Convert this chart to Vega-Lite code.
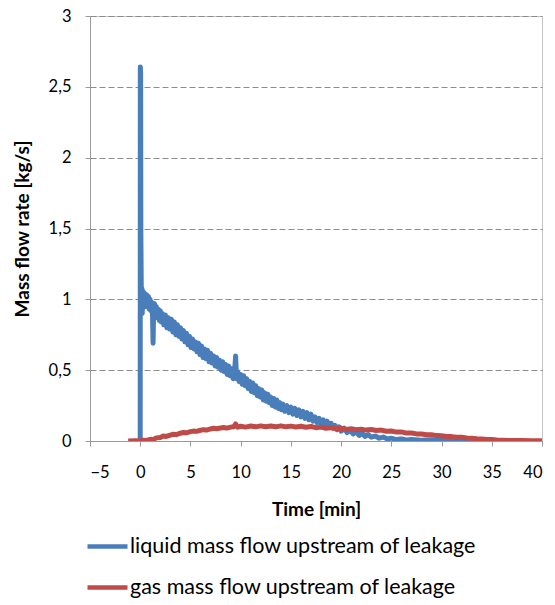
{
  "$schema": "https://vega.github.io/schema/vega-lite/v6.json",
  "width": 452,
  "height": 425,
  "autosize": {"type": "none"},
  "padding": {"left": 90, "top": 16, "right": 13, "bottom": 164},
  "background": "white",
  "config": {
    "font": "Lato",
    "view": {"stroke": "#c4c4c4", "strokeWidth": 1},
    "axis": {
      "domainColor": "#999999",
      "tickColor": "#999999",
      "gridColor": "#8c8c8c",
      "gridDash": [6, 3],
      "labelColor": "#000000",
      "titleColor": "#000000",
      "labelFont": "Lato",
      "titleFont": "Lato",
      "labelFontSize": 16.5,
      "titleFontSize": 19,
      "titleFontWeight": "bold",
      "tickSize": 5
    }
  },
  "datasets": {
    "liquid": [
      {"t": 0, "v": 0}, {"t": 0.01, "v": 2.64}, {"t": 0.04, "v": 2.6}, {"t": 0.06, "v": 1.5}, {"t": 0.09, "v": 1.22},
      {"t": 0.12, "v": 0.93}, {"t": 0.16, "v": 1.08}, {"t": 0.2, "v": 0.9}, {"t": 0.25, "v": 1.06}, {"t": 0.3, "v": 0.94},
      {"t": 0.35, "v": 1.05}, {"t": 0.42, "v": 0.96}, {"t": 0.5, "v": 1.04}, {"t": 0.58, "v": 0.95}, {"t": 0.66, "v": 1.03},
      {"t": 0.74, "v": 0.97}, {"t": 0.82, "v": 1.02}, {"t": 0.9, "v": 0.93}, {"t": 0.98, "v": 1.0}, {"t": 1.06, "v": 0.92},
      {"t": 1.14, "v": 0.98}, {"t": 1.22, "v": 0.9}, {"t": 1.28, "v": 0.69}, {"t": 1.34, "v": 0.94}, {"t": 1.42, "v": 0.97},
      {"t": 1.5, "v": 0.9}, {"t": 1.6, "v": 0.95}, {"t": 1.7, "v": 0.87}, {"t": 1.8, "v": 0.93}, {"t": 1.9, "v": 0.85},
      {"t": 2.0, "v": 0.92}, {"t": 2.1, "v": 0.84}, {"t": 2.2, "v": 0.9}, {"t": 2.35, "v": 0.82}, {"t": 2.5, "v": 0.89},
      {"t": 2.65, "v": 0.8}, {"t": 2.8, "v": 0.87}, {"t": 2.95, "v": 0.79}, {"t": 3.1, "v": 0.86}, {"t": 3.25, "v": 0.77},
      {"t": 3.4, "v": 0.84}, {"t": 3.55, "v": 0.75}, {"t": 3.7, "v": 0.82}, {"t": 3.85, "v": 0.74}, {"t": 4.0, "v": 0.8},
      {"t": 4.15, "v": 0.72}, {"t": 4.3, "v": 0.78}, {"t": 4.45, "v": 0.7}, {"t": 4.6, "v": 0.76}, {"t": 4.75, "v": 0.68},
      {"t": 4.9, "v": 0.74}, {"t": 5.05, "v": 0.66}, {"t": 5.2, "v": 0.72}, {"t": 5.35, "v": 0.65}, {"t": 5.5, "v": 0.7},
      {"t": 5.65, "v": 0.63}, {"t": 5.8, "v": 0.69}, {"t": 5.95, "v": 0.61}, {"t": 6.1, "v": 0.67}, {"t": 6.25, "v": 0.59},
      {"t": 6.4, "v": 0.65}, {"t": 6.55, "v": 0.58}, {"t": 6.7, "v": 0.64}, {"t": 6.85, "v": 0.56}, {"t": 7.0, "v": 0.62},
      {"t": 7.15, "v": 0.55}, {"t": 7.3, "v": 0.6}, {"t": 7.45, "v": 0.53}, {"t": 7.6, "v": 0.59}, {"t": 7.75, "v": 0.52},
      {"t": 7.9, "v": 0.57}, {"t": 8.05, "v": 0.5}, {"t": 8.2, "v": 0.56}, {"t": 8.35, "v": 0.49}, {"t": 8.5, "v": 0.54},
      {"t": 8.65, "v": 0.47}, {"t": 8.8, "v": 0.53}, {"t": 8.95, "v": 0.46}, {"t": 9.1, "v": 0.51}, {"t": 9.25, "v": 0.44},
      {"t": 9.4, "v": 0.5}, {"t": 9.5, "v": 0.6}, {"t": 9.58, "v": 0.44}, {"t": 9.7, "v": 0.49}, {"t": 9.85, "v": 0.42},
      {"t": 10.0, "v": 0.47}, {"t": 10.15, "v": 0.4}, {"t": 10.3, "v": 0.46}, {"t": 10.45, "v": 0.39}, {"t": 10.6, "v": 0.44},
      {"t": 10.75, "v": 0.37}, {"t": 10.9, "v": 0.42}, {"t": 11.05, "v": 0.35}, {"t": 11.2, "v": 0.41}, {"t": 11.35, "v": 0.34},
      {"t": 11.5, "v": 0.39}, {"t": 11.65, "v": 0.32}, {"t": 11.8, "v": 0.37}, {"t": 11.95, "v": 0.31}, {"t": 12.1, "v": 0.36},
      {"t": 12.25, "v": 0.29}, {"t": 12.4, "v": 0.34}, {"t": 12.55, "v": 0.28}, {"t": 12.7, "v": 0.33}, {"t": 12.85, "v": 0.27},
      {"t": 13.0, "v": 0.31}, {"t": 13.15, "v": 0.25}, {"t": 13.3, "v": 0.3}, {"t": 13.45, "v": 0.24}, {"t": 13.6, "v": 0.29},
      {"t": 13.75, "v": 0.23}, {"t": 13.9, "v": 0.27}, {"t": 14.05, "v": 0.22}, {"t": 14.2, "v": 0.26}, {"t": 14.4, "v": 0.21},
      {"t": 14.6, "v": 0.25}, {"t": 14.8, "v": 0.2}, {"t": 15.0, "v": 0.24}, {"t": 15.2, "v": 0.19}, {"t": 15.4, "v": 0.23},
      {"t": 15.6, "v": 0.18}, {"t": 15.8, "v": 0.22}, {"t": 16.0, "v": 0.17}, {"t": 16.2, "v": 0.21}, {"t": 16.4, "v": 0.16},
      {"t": 16.6, "v": 0.2}, {"t": 16.8, "v": 0.15}, {"t": 17.0, "v": 0.19}, {"t": 17.2, "v": 0.14}, {"t": 17.4, "v": 0.17},
      {"t": 17.6, "v": 0.13}, {"t": 17.8, "v": 0.16}, {"t": 18.0, "v": 0.12}, {"t": 18.2, "v": 0.15}, {"t": 18.4, "v": 0.11},
      {"t": 18.6, "v": 0.14}, {"t": 18.8, "v": 0.1}, {"t": 19.0, "v": 0.125}, {"t": 19.2, "v": 0.09}, {"t": 19.4, "v": 0.11},
      {"t": 19.6, "v": 0.08}, {"t": 19.8, "v": 0.1}, {"t": 20.0, "v": 0.07}, {"t": 20.3, "v": 0.09}, {"t": 20.6, "v": 0.06},
      {"t": 20.9, "v": 0.075}, {"t": 21.2, "v": 0.05}, {"t": 21.5, "v": 0.065}, {"t": 21.8, "v": 0.04}, {"t": 22.1, "v": 0.055},
      {"t": 22.4, "v": 0.032}, {"t": 22.7, "v": 0.045}, {"t": 23.0, "v": 0.027}, {"t": 23.4, "v": 0.035}, {"t": 23.8, "v": 0.02},
      {"t": 24.2, "v": 0.028}, {"t": 24.6, "v": 0.014}, {"t": 25.0, "v": 0.02}, {"t": 25.5, "v": 0.01}, {"t": 26.0, "v": 0.015},
      {"t": 26.5, "v": 0.007}, {"t": 27.0, "v": 0.01}, {"t": 28.0, "v": 0.005}, {"t": 29.0, "v": 0.008}, {"t": 30.0, "v": 0.004},
      {"t": 31.0, "v": 0.006}, {"t": 32.0, "v": 0.003}, {"t": 33.0, "v": 0.004}, {"t": 34.0, "v": 0.002}, {"t": 35.0, "v": 0.003},
      {"t": 36.0, "v": 0.001}
    ],
    "gas": [
      {"t": -1.2, "v": 0}, {"t": -0.5, "v": 0.002}, {"t": 0, "v": 0.0}, {"t": 0.3, "v": 0.006}, {"t": 0.6, "v": 0.004},
      {"t": 1, "v": 0.012}, {"t": 1.3, "v": 0.01}, {"t": 1.6, "v": 0.022}, {"t": 2, "v": 0.025}, {"t": 2.3, "v": 0.035},
      {"t": 2.6, "v": 0.032}, {"t": 3, "v": 0.042}, {"t": 3.3, "v": 0.048}, {"t": 3.6, "v": 0.045}, {"t": 4, "v": 0.055},
      {"t": 4.3, "v": 0.06}, {"t": 4.6, "v": 0.058}, {"t": 5, "v": 0.066}, {"t": 5.3, "v": 0.07}, {"t": 5.6, "v": 0.068},
      {"t": 6, "v": 0.076}, {"t": 6.3, "v": 0.08}, {"t": 6.6, "v": 0.077}, {"t": 7, "v": 0.085}, {"t": 7.3, "v": 0.09},
      {"t": 7.6, "v": 0.086}, {"t": 8, "v": 0.092}, {"t": 8.3, "v": 0.095}, {"t": 8.6, "v": 0.091}, {"t": 9, "v": 0.098},
      {"t": 9.3, "v": 0.1}, {"t": 9.5, "v": 0.12}, {"t": 9.7, "v": 0.098}, {"t": 10, "v": 0.104}, {"t": 10.5, "v": 0.098},
      {"t": 11, "v": 0.106}, {"t": 11.5, "v": 0.1}, {"t": 12, "v": 0.107}, {"t": 12.5, "v": 0.101}, {"t": 13, "v": 0.106},
      {"t": 13.5, "v": 0.1}, {"t": 14, "v": 0.107}, {"t": 14.5, "v": 0.1}, {"t": 15, "v": 0.105}, {"t": 15.5, "v": 0.099},
      {"t": 16, "v": 0.104}, {"t": 16.5, "v": 0.097}, {"t": 17, "v": 0.102}, {"t": 17.5, "v": 0.094}, {"t": 18, "v": 0.098},
      {"t": 18.5, "v": 0.09}, {"t": 19, "v": 0.094}, {"t": 19.5, "v": 0.086}, {"t": 20, "v": 0.09}, {"t": 20.5, "v": 0.082},
      {"t": 21, "v": 0.086}, {"t": 21.5, "v": 0.08}, {"t": 22, "v": 0.083}, {"t": 22.5, "v": 0.077}, {"t": 23, "v": 0.081},
      {"t": 23.5, "v": 0.074}, {"t": 24, "v": 0.077}, {"t": 24.5, "v": 0.069}, {"t": 25, "v": 0.071}, {"t": 25.5, "v": 0.063},
      {"t": 26, "v": 0.064}, {"t": 26.5, "v": 0.056}, {"t": 27, "v": 0.057}, {"t": 27.5, "v": 0.05}, {"t": 28, "v": 0.05},
      {"t": 28.5, "v": 0.044}, {"t": 29, "v": 0.044}, {"t": 29.5, "v": 0.038}, {"t": 30, "v": 0.037}, {"t": 30.5, "v": 0.032},
      {"t": 31, "v": 0.031}, {"t": 31.5, "v": 0.026}, {"t": 32, "v": 0.026}, {"t": 32.5, "v": 0.021}, {"t": 33, "v": 0.02},
      {"t": 33.5, "v": 0.016}, {"t": 34, "v": 0.015}, {"t": 34.5, "v": 0.011}, {"t": 35, "v": 0.01}, {"t": 35.5, "v": 0.007},
      {"t": 36, "v": 0.006}, {"t": 37, "v": 0.003}, {"t": 38, "v": 0.003}, {"t": 39, "v": 0.002}, {"t": 40, "v": 0.002}
    ]
  },
  "layer": [
    {
      "data": {"name": "liquid"},
      "mark": {"type": "line", "strokeWidth": 5, "strokeJoin": "round", "clip": true},
      "encoding": {
        "x": {
          "field": "t", "type": "quantitative",
          "scale": {"domain": [-5, 40], "nice": false},
          "axis": {"values": [-5, 0, 5, 10, 15, 20, 25, 30, 35, 40], "grid": false, "title": "Time [min]", "titlePadding": 20, "labelPadding": 18}
        },
        "y": {
          "field": "v", "type": "quantitative",
          "scale": {"domain": [0, 3], "nice": false},
          "axis": {
            "values": [0, 0.5, 1, 1.5, 2, 2.5, 3],
            "labelExpr": "replace(toString(datum.value), '.', ',')",
            "title": "Mass flow rate  [kg/s]",
            "titlePadding": 16,
            "labelPadding": 14
          }
        },
        "color": {
          "datum": "liquid mass flow upstream of leakage",
          "type": "nominal",
          "scale": {
            "domain": ["liquid mass flow upstream of leakage", "gas mass flow upstream of leakage"],
            "range": ["#4a7ebb", "#be4b48"]
          },
          "legend": {
            "orient": "none",
            "legendX": -5,
            "legendY": 508,
            "direction": "vertical",
            "title": null,
            "padding": 0,
            "symbolType": "stroke",
            "symbolSize": 1600,
            "symbolStrokeWidth": 4.5,
            "labelFont": "Lato",
            "labelFontSize": 21.5,
            "labelColor": "#000000",
            "labelLimit": 0,
            "labelOffset": 0,
            "rowPadding": 8
          }
        }
      }
    },
    {
      "data": {"name": "gas"},
      "mark": {"type": "line", "strokeWidth": 5, "strokeJoin": "round", "clip": true},
      "encoding": {
        "x": {"field": "t", "type": "quantitative"},
        "y": {"field": "v", "type": "quantitative"},
        "color": {"datum": "gas mass flow upstream of leakage", "type": "nominal"}
      }
    },
    {
      "mark": {"type": "rule", "color": "#999999", "strokeWidth": 1.5},
      "encoding": {"x": {"datum": 40}}
    }
  ]
}
